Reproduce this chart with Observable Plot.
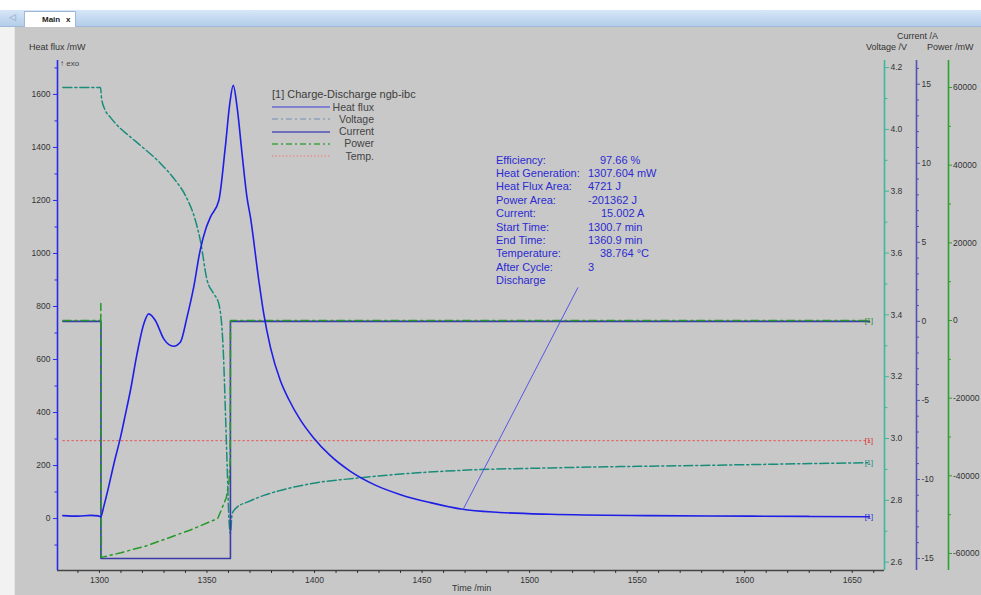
<!DOCTYPE html>
<html><head><meta charset="utf-8">
<script src="https://cdn.jsdelivr.net/npm/d3@7"></script>
<script src="https://cdn.jsdelivr.net/npm/@observablehq/plot@0.6"></script>
<style>
body{margin:0;width:981px;height:595px;overflow:hidden;background:#fff;font-family:"Liberation Sans",Arial,sans-serif;position:relative}
#tabbar{position:absolute;left:0;top:10px;width:981px;height:16px;background:linear-gradient(#d6e6f7,#b3cdea);border-bottom:1px solid #9fb8d6}
#tab{position:absolute;left:24px;top:11px;width:50px;height:15px;background:#fff;border:1px solid #9fb8d6;border-bottom:none;font-size:8px;font-weight:bold;line-height:15px;color:#222}
#tab span{position:absolute}
#arrow{position:absolute;left:9px;top:12px;font-size:9px;color:#8aa0b8}
#panel{position:absolute;left:14px;top:27px;width:967px;height:568px;background:#c8c8c8;border-left:1px solid #e6e6e6}
#leftstrip{position:absolute;left:0;top:27px;width:14px;height:568px;background:#f2f2f2}
#chart{position:absolute;left:0;top:0}
.t{position:absolute;white-space:nowrap;line-height:1}
</style></head>
<body>
<div id="tabbar"></div>
<div id="arrow">◁</div>
<div id="tab"><span style="left:17px">Main</span><span style="left:41px">x</span></div>
<div id="leftstrip"></div>
<div id="panel"></div>
<div id="chart"></div>
<div id="overlay"></div>
<script>
// ---------- DATA ----------
// Heat flux (mW) vs time (min)
const hfTime = [1283, 1290, 1296, 1299.5, 1300.6, 1302, 1304, 1306.7, 1309.8, 1312, 1314.4, 1317.5, 1320.6, 1322.9, 1326, 1329.9, 1334.5, 1337.6, 1340.7, 1343.8, 1346.8, 1349.5, 1351.6, 1355.5, 1358.5, 1360.6, 1362.2, 1364, 1366.3, 1368.6, 1370.2, 1374.1, 1376.4, 1379.5, 1384.1, 1388, 1393.4, 1399.5, 1407, 1416.7, 1428, 1440, 1453.9, 1468.7, 1486, 1509.6, 1556, 1602.6, 1630, 1658];
const hfVal  = [11, 9, 12, 10, 6, 45, 110, 206, 307, 390, 483, 622, 734, 772, 747, 678, 650, 665, 759, 872, 1011, 1094, 1137, 1200, 1400, 1565, 1634, 1552, 1377, 1212, 1137, 898, 772, 646, 521, 450, 372, 305, 240, 178, 127, 90, 60, 35, 23, 16, 11, 9, 8, 7];
// Voltage (V)
const vTime = [1283, 1300.5, 1301, 1302.5, 1305.1, 1309.8, 1314.5, 1319.1, 1328.4, 1335.3, 1340, 1344.6, 1346.9, 1350.1, 1353, 1355.5, 1357.5, 1358.6, 1359.4, 1360.1, 1360.9, 1361.7, 1364, 1368.7, 1376.4, 1384.1, 1400.9, 1420, 1440, 1468, 1510, 1580, 1658];
const vVal  = [4.136, 4.136, 4.10, 4.065, 4.039, 4.003, 3.975, 3.948, 3.890, 3.835, 3.786, 3.706, 3.641, 3.511, 3.47, 3.436, 3.295, 3.081, 2.907, 2.757, 2.693, 2.757, 2.778, 2.794, 2.816, 2.832, 2.857, 2.872, 2.885, 2.897, 2.905, 2.913, 2.922];
// Current (A)
const cTime = [1283, 1300.7, 1300.7, 1360.9, 1360.9, 1658];
const cVal  = [0, 0, -15, -15, 0, 0];
// Power (mW)
const pTime = [1283, 1300.6, 1300.65, 1300.9, 1310, 1322, 1342, 1355, 1359, 1360.3, 1360.8, 1360.95, 1658];
const pVal  = [0, 0, 4400, -61000, -59800, -58000, -54000, -51000, -45600, -41200, -36000, 0, 0];
// Temp. trace level (drawn on heat-flux scale)
const tTime = [1283, 1658];
const tLevel = [294, 294];

// axis ticks
const xMajor = [1300, 1350, 1400, 1450, 1500, 1550, 1600, 1650];
const hfMajor = [0, 200, 400, 600, 800, 1000, 1200, 1400, 1600];
const vMajor = [2.6, 2.8, 3.0, 3.2, 3.4, 3.6, 3.8, 4.0, 4.2];
const cMajor = [-15, -10, -5, 0, 5, 10, 15];
const pMajor = [-60000, -40000, -20000, 0, 20000, 40000, 60000];

// legend & annotation
const legendTitle = "[1]  Charge-Discharge ngb-ibc";
const legendNames = ["Heat flux", "Voltage", "Current", "Power", "Temp."];
const annoLabels = ["Efficiency:", "Heat Generation:", "Heat Flux Area:", "Power Area:", "Current:", "Start Time:", "End Time:", "Temperature:", "After Cycle:", "Discharge"];
const annoValues = ["97.66 %", "1307.604 mW", "4721 J", "-201362 J", "15.002 A", "1300.7 min", "1360.9 min", "38.764 °C", "3", ""];
// leader line: from annotation to heat flux curve
const leaderFrom = {t: 1522.5, hf: 872};
const leaderTo = {t: 1469, hf: 33};

// ---------- STYLE ----------
const C = {hf: "#1e1ee6", v: "#1a8c7c", c: "#3a3aa8", p: "#26992a", temp: "#e06a6a",
  hfAxis: "#2a2aee", vAxis: "#3cb89c", cAxis: "#5252b4", pAxis: "#2ea02e", label: "#333"};
const legendStyle = [
  {color: "#6a6ad2", dash: null},
  {color: "#8ea2b8", dash: "6,3,2,3"},
  {color: "#5050b8", dash: null},
  {color: "#3fa33f", dash: "6,3,2,3"},
  {color: "#e69090", dash: "1.5,2"}
];
const annoValueX = [600, 588, 588, 588, 601, 588, 588, 600, 588, 588];

// ---------- SCALES for secondary axes (mapped onto heat-flux scale) ----------
const yDom = [-196, 1728];
const voltToHf = d3.scaleLinear().domain([2.573, 4.223]).range(yDom);
const curToHf = d3.scaleLinear().domain([-15.76, 16.5]).range(yDom);
const powToHf = d3.scaleLinear().domain([-64380, 66960]).range(yDom);

const hfRows = hfTime.map((t, i) => ({t, y: hfVal[i]}));
const vRows = vTime.map((t, i) => ({t, y: voltToHf(vVal[i])}));
const cRows = cTime.map((t, i) => ({t, y: curToHf(cVal[i])}));
const pRows = pTime.map((t, i) => ({t, y: powToHf(pVal[i])}));
const tRows = tTime.map((t, i) => ({t, y: tLevel[i]}));

const minor = (arr, step) => { const out = []; for (let i = 0; i < arr.length - 1; i++) { for (let k = 1; k * step < arr[i+1] - arr[i] - 1e-9; k++) out.push(+(arr[i] + k * step).toFixed(4)); } return out; };

const xMinor = d3.range(1290, 1661, 10).filter(d => d % 50 !== 0);
const hfMinor = [-100].concat(minor(hfMajor, 100)).concat([1700]);
const vMinor = minor(vMajor, 0.1);
const cMinor = minor(cMajor, 1).concat([16]);
const pMinor = minor(pMajor, 10000);

const X1 = 1665;
const ends = [
  {t: tTime[tTime.length-1], y: tLevel[tLevel.length-1], c: "#d83030", dy: -4},
  {t: vTime[vTime.length-1], y: voltToHf(vVal[vVal.length-1]), c: "#1a8c7c", dy: -3},
  {t: hfTime[hfTime.length-1], y: hfVal[hfVal.length-1], c: "#2a2ad8", dy: -4},
  {t: cTime[cTime.length-1], y: curToHf(cVal[cVal.length-1]), c: "#2a8a2a", dy: -5}
];

const common = {label: null, fontSize: 8.5, fill: C.label};
const plot = Plot.plot({
  width: 981, height: 595,
  marginLeft: 57, marginRight: 97, marginTop: 60, marginBottom: 25,
  x: {domain: [1280.5, X1]},
  y: {domain: yDom},
  style: {background: "transparent", fontFamily: "Liberation Sans, Arial, sans-serif", fontSize: "9px", overflow: "visible", color: "#333"},
  marks: [
    // temp
    Plot.line(tRows, {x: "t", y: "y", stroke: C.temp, strokeWidth: 1.2, strokeDasharray: "1.5,3"}),
    // voltage
    Plot.line(vRows, {x: "t", y: "y", stroke: C.v, strokeWidth: 1.5, strokeDasharray: "9,3,2,3", curve: "monotone-x"}),
    // current
    Plot.line(cRows, {x: "t", y: "y", stroke: C.c, strokeWidth: 1.6}),
    // power
    Plot.line(pRows, {x: "t", y: "y", stroke: C.p, strokeWidth: 1.5, strokeDasharray: "8,4,2,4"}),
    // heat flux
    Plot.line(hfRows, {x: "t", y: "y", stroke: C.hf, strokeWidth: 1.6, curve: "monotone-x"}),
    // leader line
    Plot.link([{x1: leaderFrom.t, y1: leaderFrom.hf, x2: leaderTo.t, y2: leaderTo.hf}], {x1: "x1", y1: "y1", x2: "x2", y2: "y2", stroke: "#4a4ae6", strokeWidth: 0.9}),
    // end labels
    Plot.text(ends, {x: "t", y: "y", text: () => "[1]", fill: "c", dx: 6, dy: "dy", fontSize: 7.5}),
    // frame lines
    Plot.ruleY([yDom[0]], {stroke: "#444", strokeWidth: 1.5}),
    Plot.ruleX([1280.5], {stroke: C.hfAxis, strokeWidth: 1.6}),
    Plot.ruleX([X1], {stroke: C.vAxis, strokeWidth: 1.6}),
    Plot.ruleX([X1], {stroke: C.cAxis, strokeWidth: 1.6, dx: 32}),
    Plot.ruleX([X1], {stroke: C.pAxis, strokeWidth: 1.6, dx: 64}),
    // x axis
    Plot.axisX(xMajor, {...common, anchor: "bottom", tickSize: 3, tickPadding: 3, stroke: "#333", tickFormat: d => String(d)}),
    Plot.axisX(xMinor, {label: null, anchor: "bottom", tickSize: 3, fill: "none", stroke: "#333"}),
    // heat flux axis
    Plot.axisY(hfMajor, {...common, anchor: "left", tickSize: 4, tickPadding: 3, stroke: C.hfAxis, tickFormat: d => String(d)}),
    Plot.axisY(hfMinor, {label: null, anchor: "left", tickSize: 2.5, fill: "none", stroke: C.hfAxis}),
    // voltage axis
    Plot.axisY(vMajor.map(voltToHf), {...common, anchor: "right", tickSize: 4, tickPadding: 2, stroke: C.vAxis, tickFormat: d => voltToHf.invert(d).toFixed(1)}),
    Plot.axisY(vMinor.map(voltToHf), {label: null, anchor: "right", tickSize: 2.5, fill: "none", stroke: C.vAxis}),
    // current axis
    Plot.axisY(cMajor.map(curToHf), {...common, anchor: "right", dx: 32, tickSize: 3, tickPadding: 2, stroke: C.cAxis, tickFormat: d => String(Math.round(curToHf.invert(d)))}),
    Plot.axisY(cMinor.map(curToHf), {label: null, anchor: "right", dx: 32, tickSize: 2, fill: "none", stroke: C.cAxis}),
    // power axis
    Plot.axisY(pMajor.map(powToHf), {...common, anchor: "right", dx: 64, tickSize: 3, tickPadding: 1.5, stroke: C.pAxis, tickFormat: d => String(Math.round(powToHf.invert(d) / 1000) * 1000)}),
    Plot.axisY(pMinor.map(powToHf), {label: null, anchor: "right", dx: 64, tickSize: 2, fill: "none", stroke: C.pAxis})
  ]
});
document.getElementById("chart").appendChild(plot);

// ---------- HTML text overlays ----------
const ov = document.getElementById("overlay");
function addText(txt, left, top, size, color, extra) {
  const d = document.createElement("div");
  d.className = "t"; d.textContent = txt;
  d.style.left = left + "px"; d.style.top = top + "px";
  d.style.fontSize = size + "px"; d.style.color = color;
  if (extra) Object.assign(d.style, extra);
  ov.appendChild(d); return d;
}
addText("Heat flux /mW", 29, 43, 9, "#333");
addText("↑ exo", 60, 60, 8, "#444");
addText("Current /A", 897, 32, 9, "#333");
addText("Voltage /V", 866, 43, 9, "#333");
addText("Power /mW", 927, 43, 9, "#333");
addText("Time /min", 452, 584, 9, "#333");

// legend
addText(legendTitle, 272, 89, 11, "#3c3c3c");
legendNames.forEach((n, i) => {
  const cy = 107 + 12.3 * i;
  const s = document.createElementNS("http://www.w3.org/2000/svg", "svg");
  s.setAttribute("width", 60); s.setAttribute("height", 4);
  s.style.position = "absolute"; s.style.left = "272px"; s.style.top = (cy - 2) + "px";
  const l = document.createElementNS("http://www.w3.org/2000/svg", "line");
  l.setAttribute("x1", 0); l.setAttribute("x2", 58); l.setAttribute("y1", 2); l.setAttribute("y2", 2);
  l.setAttribute("stroke", legendStyle[i].color); l.setAttribute("stroke-width", 1.4);
  if (legendStyle[i].dash) l.setAttribute("stroke-dasharray", legendStyle[i].dash);
  s.appendChild(l); ov.appendChild(s);
  const d = addText(n, 0, cy - 5.5, 10.5, "#444", {textAlign: "right", width: "100px"});
  d.style.left = (374 - 100) + "px";
});

// annotation
annoLabels.forEach((lab, i) => {
  const cy = 160.7 + 13.37 * i;
  addText(lab, 496, cy - 6, 11, "#2b2bd2");
  if (annoValues[i]) addText(annoValues[i], annoValueX[i], cy - 6, 11, "#2b2bd2");
});
</script>
</body></html>
